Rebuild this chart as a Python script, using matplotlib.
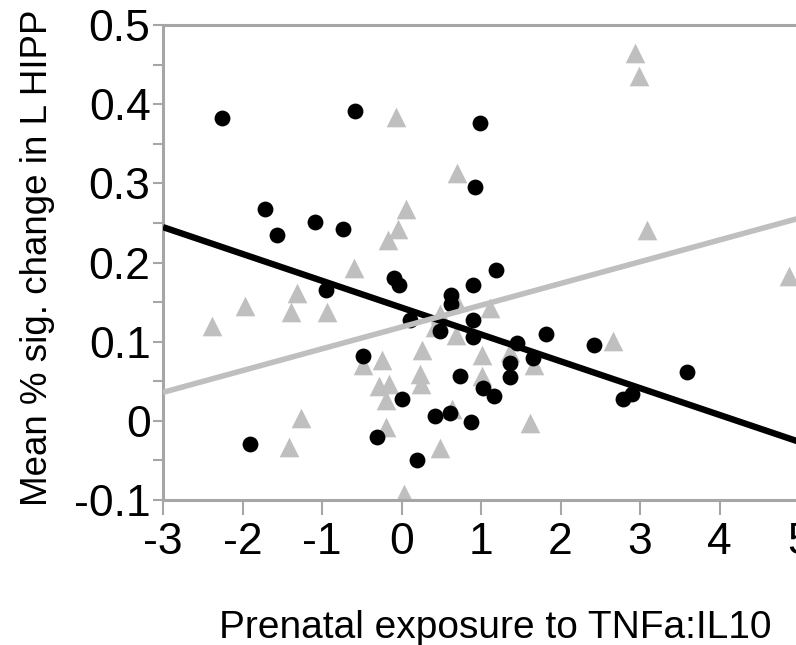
import numpy as np
import matplotlib
matplotlib.use("Agg")
import matplotlib.pyplot as plt

plt.rcParams['font.family'] = ['Liberation Sans', 'DejaVu Sans']

# black circles
circ_x = [-2.26, -0.585, 0.98, 0.925, -1.72, -1.57, -1.09, -0.74, -0.95, -0.10,
          -0.03, 0.90, 0.62, 0.62, 1.19, 0.10, 0.48, 0.90, 0.90, 1.45,
          1.81, 1.65, 1.36, 1.36, 0.74, 1.02, 1.16, -0.48, 0.00, 0.42,
          0.61, 0.87, -0.31, 0.20, -1.90, 2.42, 3.59, 2.90, 2.78]
circ_y = [0.382, 0.392, 0.376, 0.295, 0.268, 0.235, 0.251, 0.242, 0.165, 0.181,
          0.171, 0.171, 0.159, 0.147, 0.191, 0.127, 0.114, 0.127, 0.106, 0.098,
          0.110, 0.080, 0.073, 0.055, 0.057, 0.041, 0.031, 0.082, 0.027, 0.006,
          0.010, -0.001, -0.021, -0.050, -0.029, 0.096, 0.062, 0.034, 0.027]

# grey triangles
tri_x = [-0.07, 0.70, 2.93, 2.98, 3.08, 4.87, 0.06, -0.04, -0.17, -0.60,
         -2.39, -1.97, -1.32, -1.39, -0.94, 0.69, 0.48, 0.42, 1.11, 0.69,
         0.26, -0.49, -0.24, 0.23, 0.25, -0.29, -0.16, -0.20, 1.01, 1.36,
         1.66, 1.01, 0.63, 1.61, 2.66, -1.27, -0.20, -1.41, 0.48, 0.03]
tri_y = [0.384, 0.313, 0.465, 0.435, 0.241, 0.183, 0.267, 0.242, 0.229, 0.193,
         0.120, 0.145, 0.162, 0.137, 0.137, 0.152, 0.135, 0.118, 0.143, 0.108,
         0.090, 0.071, 0.077, 0.059, 0.047, 0.044, 0.046, 0.026, 0.083, 0.087,
         0.070, 0.057, 0.015, -0.003, 0.101, 0.004, -0.008, -0.033, -0.034, -0.092]

# fitted lines (intercept, slope)
circ_fit = (0.143, -0.0339)
tri_fit = (0.1185, 0.0275)

grey = '#A6A6A6'
light = '#BFBFBF'

fig = plt.figure(figsize=(7.96, 6.45), dpi=100)
ax = fig.add_axes([0.2048, 0.2248, 0.7992, 0.7364])

ax.scatter(tri_x, tri_y, marker='^', s=200, color=light, linewidths=0, zorder=2)
ax.scatter(circ_x, circ_y, marker='o', s=130, color='black', linewidths=0, zorder=3)

xx = np.array([-3, 5])
ax.plot(xx, circ_fit[0] + circ_fit[1] * xx, color='black', lw=4.6, zorder=4,
        solid_capstyle='butt')
ax.plot(xx, tri_fit[0] + tri_fit[1] * xx, color=light, lw=4.0, zorder=5,
        solid_capstyle='butt')

ax.set_xlim(-3, 5)
ax.set_ylim(-0.1, 0.5)
ax.set_xticks(range(-3, 6))
ax.set_xticklabels([str(v) for v in range(-3, 6)])
ax.set_yticks([-0.1, 0, 0.1, 0.2, 0.3, 0.4, 0.5])
ax.set_yticklabels(['-0.1', '0', '0.1', '0.2', '0.3', '0.4', '0.5'])
ax.set_yticks(np.arange(-0.05, 0.5, 0.1), minor=True)

for side in ['left', 'bottom', 'top']:
    ax.spines[side].set_color(grey)
    ax.spines[side].set_linewidth(2.2)
ax.spines['right'].set_visible(False)

ax.tick_params(axis='y', which='both', direction='out', length=7, width=1.5,
               color=grey, labelsize=32, pad=2)
ax.tick_params(axis='x', direction='out', length=11, width=1.5, color=grey,
               labelsize=32, pad=5)

ax.set_xlabel('Prenatal exposure to TNFa:IL10', fontsize=28)
ax.set_ylabel('Mean % sig. change in L HIPP', fontsize=26.5)
ax.xaxis.set_label_coords(0.522, -0.232)
ax.yaxis.set_label_coords(-0.17, 0.51)

fig.savefig('out.png', dpi=100)
